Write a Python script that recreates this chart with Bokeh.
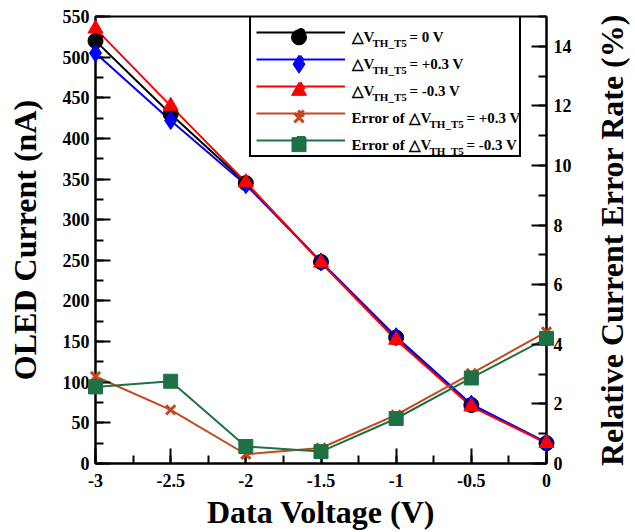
import math
from bokeh.plotting import figure
from bokeh.models import (Range1d, LinearAxis, SingleIntervalTicker, Legend,
                          LegendItem, ColumnDataSource)
from bokeh.core.properties import value
from bokeh.embed import file_html
from bokeh.resources import INLINE

# Data voltage sweep (V)
data_voltage = [-3.0, -2.5, -2.0, -1.5, -1.0, -0.5, 0.0]
x_tick_labels = ["-3", "-2.5", "-2", "-1.5", "-1", "-0.5", "0"]

# OLED current (nA) for each threshold-voltage shift of T5
current_0v = [520, 430, 345, 248, 155, 72, 25]
current_p03 = [505, 422, 343, 248, 156, 73, 26]
current_m03 = [535, 440, 346, 247, 152, 70, 25]

# Relative current error rate (%)
error_p03 = [2.92, 1.80, 0.31, 0.52, 1.63, 3.02, 4.42]
error_m03 = [2.57, 2.76, 0.57, 0.40, 1.51, 2.87, 4.20]

FONT = "Liberation Serif"
ORANGE = "#C8461E"
GREEN = "#1E7145"

# frame placement on the canvas (px)
FL, FR, FT, FB = 95, 546, 16, 466
X0, X1, Y0, Y1 = -3.0, 0.0, 0.0, 550.0

p = figure(width=635, height=532, output_backend="svg", toolbar_location=None,
           x_range=Range1d(X0, X1), y_range=Range1d(Y0, Y1),
           min_border_left=FL, min_border_right=635 - FR, min_border_top=FT,
           min_border_bottom=532 - FB)
p.extra_y_ranges = {"err": Range1d(0, 15)}
p.grid.visible = False
p.outline_line_color = "black"
p.outline_line_width = 2
p.background_fill_color = "white"
p.border_fill_color = "white"

p.xaxis.ticker = SingleIntervalTicker(interval=0.5, num_minor_ticks=2)
p.xaxis.major_label_overrides = {v: s for v, s in zip(data_voltage, x_tick_labels)}
p.yaxis.ticker = SingleIntervalTicker(interval=50, num_minor_ticks=2)
p.xaxis.axis_label = "Data Voltage (V)"
p.yaxis.axis_label = "OLED Current (nA)"

right = LinearAxis(y_range_name="err",
                   ticker=SingleIntervalTicker(interval=2, num_minor_ticks=2))
p.add_layout(right, "right")

for ax in [p.xaxis[0], p.yaxis[0], right]:
    ax.axis_line_width = 2
    ax.axis_line_color = "black"
    ax.major_tick_line_width = 2
    ax.minor_tick_line_width = 2
    ax.major_tick_in = 15
    ax.major_tick_out = 0
    ax.minor_tick_in = 8
    ax.minor_tick_out = 0
    ax.major_label_text_font = FONT
    ax.major_label_text_font_style = "bold"
    ax.major_label_text_font_size = "18px"
    ax.major_label_text_color = "black"
    ax.axis_label_text_font = FONT
    ax.axis_label_text_font_style = "bold"
    ax.axis_label_text_font_size = "32px"
    ax.axis_label_text_color = "black"
p.xaxis.major_label_standoff = 10
p.xaxis.axis_label_standoff = 4
p.yaxis.major_label_standoff = 6
p.yaxis.axis_label_standoff = 17
right.major_label_standoff = 7

# Series styles: (marker, size, colour, line width of the marker outline)
styles = [("circle", 15, "black", 1), ("diamond", 18, "blue", 1),
          ("triangle", 15, "red", 1), ("x", 13, ORANGE, 3), ("square", 14, GREEN, 1)]


def draw_series(x, y, style, **kw):
    marker, size, color, mlw = style
    ln = p.line(x, y, line_color=color, line_width=2, **kw)
    # markers sit on the overlay level so the edge points are not cut by the frame
    if marker == "x":
        mk = p.scatter(x, y, marker=marker, size=size, line_color=color,
                       line_width=mlw, level="overlay", **kw)
    else:
        mk = p.scatter(x, y, marker=marker, size=size, color=color,
                       level="overlay", **kw)
    return ln, mk


# Current curves on the left axis
r0 = draw_series(data_voltage, current_0v, styles[0])
r1 = draw_series(data_voltage, current_p03, styles[1])
r2 = draw_series(data_voltage, current_m03, styles[2])
# Error curves on the right axis
r3 = draw_series(data_voltage, error_p03, styles[3], y_range_name="err")
r4 = draw_series(data_voltage, error_m03, styles[4], y_range_name="err")

# Legend box: line samples only, text and full-size markers go on top of it
legend = Legend(items=[LegendItem(label=" ", renderers=list(r))
                       for r in [r0, r1, r2, r3, r4]],
                location=(154, 306), orientation="vertical",
                glyph_width=89, glyph_height=20, label_height=20, label_width=161,
                label_standoff=8, spacing=7, padding=5, margin=0,
                border_line_color="black", border_line_width=2, border_line_alpha=1,
                background_fill_alpha=0)
p.add_layout(legend, "center")


def to_data(px, py):
    """Convert a canvas pixel position to the left-axis data space."""
    x = X0 + (px - FL) * (X1 - X0) / (FR - FL)
    y = Y0 + (FB - py) * (Y1 - Y0) / (FB - FT)
    return x, y


row_y = [37, 64, 91, 118, 145]

# full-size markers in the legend samples
for ry, (marker, size, color, mlw) in zip(row_y, styles):
    mx, my = to_data(298.5, ry)
    if marker == "x":
        p.scatter([mx], [my], marker=marker, size=size, line_color=color, line_width=mlw)
    else:
        p.scatter([mx], [my], marker=marker, size=size, color=color)

texts = {}  # font size -> dict of columns


def add_text(px, py, text, size):
    x, y = to_data(px, py)
    d = texts.setdefault(size, dict(x=[], y=[], text=[]))
    d["x"].append(x)
    d["y"].append(y)
    d["text"].append(text)


# Legend text with subscripted transistor name
rows = [("", "= 0 V"), ("", "= +0.3 V"), ("", "= -0.3 V"),
        ("Error of ", "= +0.3 V"), ("Error of ", "= -0.3 V")]
for (prefix, rest), ry in zip(rows, row_y):
    x0 = 351
    if prefix:
        add_text(x0, ry, prefix, "15px")
        x0 = 408
    add_text(x0, ry, "\u25B3V", "15px")
    add_text(x0 + 21, ry + 6, "TH_T5", "11px")
    add_text(x0 + 58, ry, rest, "15px")

for size, cols in texts.items():
    p.text(x="x", y="y", text="text", source=ColumnDataSource(cols),
           text_font=value(FONT), text_font_style="bold", text_font_size=size,
           text_color="black", text_align="left", text_baseline="middle")

# Right axis title, reading bottom to top (placed just outside the frame)
tx, ty = to_data(611, 241)
p.text(x=[tx], y=[ty], text=["Relative Current Error Rate (%)"], angle=math.pi / 2,
       text_font=value(FONT), text_font_style="bold", text_font_size="32px",
       text_color="black", text_align="center", text_baseline="middle",
       level="overlay")

open("out.html", "w").write(file_html(p, INLINE))
